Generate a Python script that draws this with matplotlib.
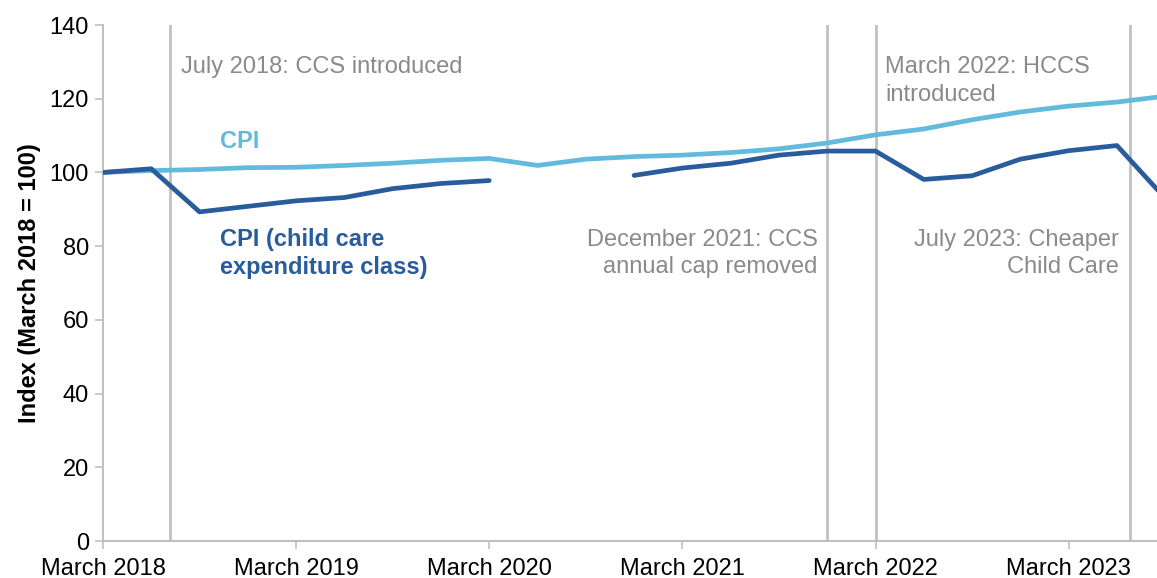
import numpy as np
from matplotlib import pyplot as plt

plt.rcParams['font.family'] = ['Liberation Sans', 'DejaVu Sans']

# quarterly, March 2018 .. September 2023
quarters = np.arange(23)
cpi = [100.0, 100.5, 100.8, 101.3, 101.4, 101.9, 102.5, 103.3, 103.8,
       101.9, 103.6, 104.3, 104.7, 105.4, 106.4, 108.0, 110.2,
       111.8, 114.3, 116.4, 118.0, 119.1, 120.7]
childcare = [100.0, 101.0, 89.3, 90.8, 92.3, 93.2, 95.6, 97.0, 97.8,
             np.nan, np.nan, 99.2, 101.2, 102.5, 104.7, 105.8, 105.8,
             98.1, 99.1, 103.6, 105.9, 107.3, 93.0]
tick_labels = ['March 2018', 'March 2019', 'March 2020', 'March 2021',
               'March 2022', 'March 2023']
events = [1.39, 15, 16, 21.27]  # Jul 2018, Dec 2021, Mar 2022, Jul 2023

light = '#62bbdc'
dark = '#285c9c'
grey_txt = '#8a8a8a'
grey_ln = '#c0c0c0'

fig = plt.figure(figsize=(11.57, 5.78), dpi=100)
ax = fig.add_axes([0.089, 0.064, 0.911, 0.8927])

for e in events:
    ax.axvline(e, color=grey_ln, lw=2, zorder=1)

ax.plot(quarters, cpi, color=light, lw=3.4, zorder=3, solid_capstyle='round')
ax.plot(quarters, childcare, color=dark, lw=3.4, zorder=3, solid_capstyle='round')

ax.set_xlim(0, 21.83)
ax.set_ylim(0, 140)
ax.set_yticks(range(0, 141, 20))
ax.set_xticks(range(0, 21, 4))
ax.set_xticklabels(tick_labels)
ax.tick_params(labelsize=17, color=grey_ln, width=1.2, length=6)
ax.tick_params(axis='x', pad=6)
ax.tick_params(axis='y', pad=4)
for s in ['top', 'right']:
    ax.spines[s].set_visible(False)
for s in ['left', 'bottom']:
    ax.spines[s].set_color(grey_ln)
    ax.spines[s].set_linewidth(1.5)
ax.set_ylabel('Index (March 2018 = 100)', fontsize=17, fontweight='bold', labelpad=6)

fs = 17
ls = 1.32
ax.text(1.62, 128.6, 'July 2018: CCS introduced', color=grey_txt, fontsize=fs,
        va='center', ha='left')
ax.text(16.2, 124.8, 'March 2022: HCCS\nintroduced', color=grey_txt, fontsize=fs,
        va='center', ha='left', linespacing=ls)
ax.text(14.8, 78.0, 'December 2021: CCS\nannual cap removed', color=grey_txt,
        fontsize=fs, va='center', ha='right', linespacing=ls)
ax.text(21.05, 78.0, 'July 2023: Cheaper\nChild Care', color=grey_txt,
        fontsize=fs, va='center', ha='right', linespacing=ls)
ax.text(2.43, 108.3, 'CPI', color=light, fontsize=fs, fontweight='bold',
        va='center', ha='left')
ax.text(2.43, 78.0, 'CPI (child care\nexpenditure class)', color=dark,
        fontsize=fs, fontweight='bold', va='center', ha='left', linespacing=ls)

fig.savefig('out.png', dpi=100)
